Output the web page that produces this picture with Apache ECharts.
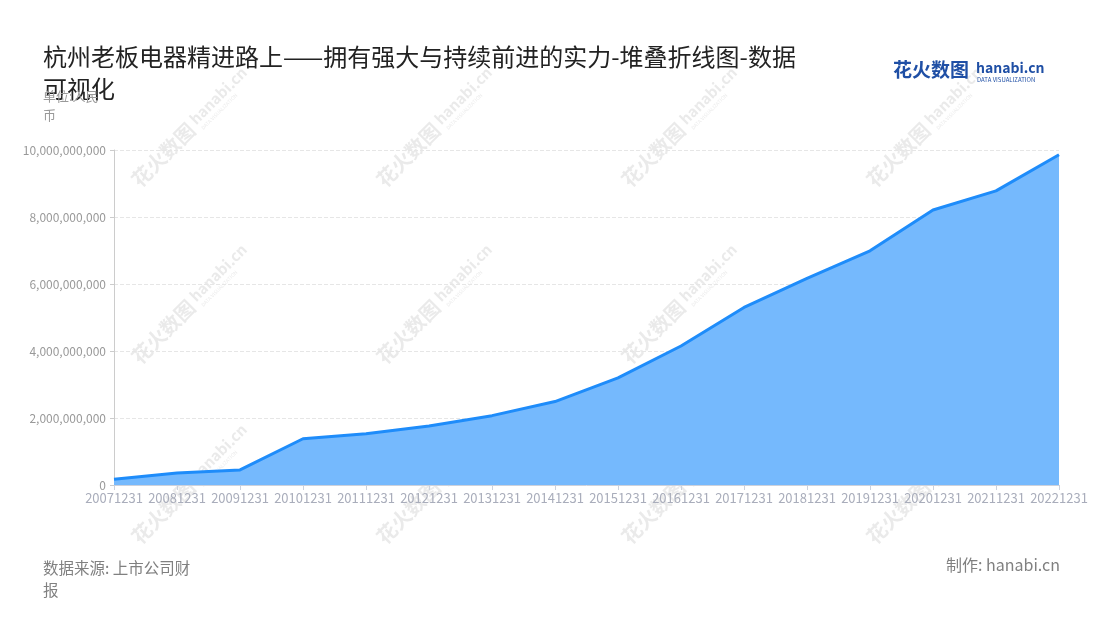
<!DOCTYPE html>
<html>
<head>
<meta charset="utf-8">
<script src="https://cdn.jsdelivr.net/npm/echarts@6/dist/echarts.min.js"></script>
<style>
html,body{margin:0;padding:0;background:#fff;}
#main{width:1100px;height:620px;}
</style>
</head>
<body>
<div id="main"></div>
<script>
const titleText = '杭州老板电器精进路上——拥有强大与持续前进的实力-堆叠折线图-数据可视化';
const unitText = '单位:人民币';
const sourceText = '数据来源: 上市公司财报';
const creditText = '制作: hanabi.cn';
const categories = ['20071231','20081231','20091231','20101231','20111231','20121231','20131231','20141231','20151231','20161231','20171231','20181231','20191231','20201231','20211231','20221231'];
const values = [170000000, 360000000, 450000000, 1380000000, 1530000000, 1760000000, 2070000000, 2490000000, 3200000000, 4150000000, 5300000000, 6170000000, 6990000000, 8210000000, 8780000000, 9860000000];

const FONT = '"Noto Sans CJK SC", "Noto Sans", sans-serif';
const chart = echarts.init(document.getElementById('main'));

const wmCenters = [];
[183, 428, 673, 918].forEach(x => { [135, 312, 492].forEach(y => wmCenters.push([x, y])); });
const WM = 'rgba(150,150,150,0.2)';
const watermarks = wmCenters.map(c => ({
  type: 'group', x: c[0], y: c[1], rotation: Math.PI / 4, z: 100, silent: true,
  children: [
    { type: 'text', x: -68, y: 0, style: { text: '花火数图', font: 'bold 20px ' + FONT, fill: WM, verticalAlign: 'middle' } },
    { type: 'text', x: 16, y: -3, style: { text: 'hanabi.cn', font: 'bold 15px ' + FONT, fill: WM, verticalAlign: 'middle' } },
    { type: 'text', x: 18, y: 9, style: { text: 'DATA VISUALIZATION', font: '5px ' + FONT, fill: WM, verticalAlign: 'middle' } }
  ]
}));

chart.setOption({
  backgroundColor: '#fff',
  title: {
    text: titleText, left: 38, top: 36,
    textStyle: { fontFamily: FONT, fontSize: 24, fontWeight: 'normal', color: '#222', width: 770, overflow: 'break', lineHeight: 32 }
  },
  grid: { left: 114, right: 41, top: 150, bottom: 135, containLabel: false },
  xAxis: {
    type: 'category', data: categories, boundaryGap: false,
    axisLine: { lineStyle: { color: '#ccd1dc' } },
    axisTick: { show: true, lineStyle: { color: '#ccd1dc' } },
    axisLabel: { color: '#a9adbb', fontSize: 13, fontFamily: FONT, margin: 7, interval: 0 }
  },
  yAxis: {
    type: 'value', min: 0, max: 10000000000, interval: 2000000000,
    axisLine: { show: true, lineStyle: { color: '#cccccc' } },
    axisTick: { show: true, length: 4, lineStyle: { color: '#cccccc' } },
    axisLabel: { color: '#999', fontSize: 12, fontFamily: FONT, margin: 8,
      formatter: v => v.toString().replace(/\B(?=(\d{3})+(?!\d))/g, ',') },
    splitLine: { lineStyle: { color: '#e6e6e6', type: 'dashed' } }
  },
  series: [{
    type: 'line', data: values, symbol: 'none', stack: 'total',
    lineStyle: { color: '#1e8cfa', width: 3 },
    itemStyle: { color: '#1e8cfa' },
    areaStyle: { color: '#75b9fd', opacity: 1 }
  }],
  graphic: [
    { type: 'text', left: 43, top: 87, z: 50, style: { text: unitText, font: '13px ' + FONT, fill: '#999', width: 70, overflow: 'break', lineHeight: 19 } },
    { type: 'text', left: 43, top: 557, style: { text: sourceText, font: '15.5px ' + FONT, fill: '#808080', width: 172, overflow: 'break', lineHeight: 22 } },
    { type: 'text', right: 40, top: 557, style: { text: creditText, font: '16px ' + FONT, fill: '#808080' } },
    { type: 'text', left: 893, top: 60, style: { text: '花火数图', font: 'bold 19px ' + FONT, fill: '#1f4fa5' } },
    { type: 'text', left: 976, top: 61, style: { text: 'hanabi.cn', font: 'bold 14px ' + FONT, fill: '#1f4fa5' } },
    { type: 'text', left: 977, top: 77, style: { text: 'DATA VISUALIZATION', font: '6px ' + FONT, fill: '#1f4fa5' } }
  ].concat(watermarks)
});
</script>
</body>
</html>
